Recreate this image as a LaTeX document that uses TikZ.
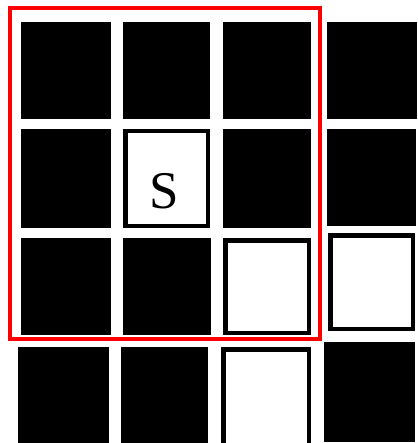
\documentclass[tikz,border=0pt]{standalone}
\usepackage{fontspec}
\setmainfont{Liberation Serif}
\begin{document}
\begin{tikzpicture}[x=1pt, y=-1pt,
    blk/.style={fill=black},
    open/.style={draw=black, line width=4.5pt, fill=white},
    window/.style={draw=red, line width=4.5pt}]
            \useasboundingbox (0,0) rectangle (417,443);
            % row 1
            \fill[blk] (21,22) rectangle (111,119);
            \fill[blk] (123,22) rectangle (210,119);
            \fill[blk] (223,22) rectangle (311,119);
            \fill[blk] (327,22) rectangle (417,119);
            % row 2, start cell in the middle
            \fill[blk] (21,129) rectangle (111,228);
            \draw[open] (125.25,131.25) rectangle (207.75,225.75);
            \fill[blk] (223,129) rectangle (311,228);
            \fill[blk] (327,129) rectangle (416,226);
            % row 3
            \fill[blk] (21,238) rectangle (111,335);
            \fill[blk] (123,238) rectangle (211,335);
            \draw[open] (225.25,240.25) rectangle (308.75,332.75);
            \draw[open] (330.25,235.25) rectangle (412.75,328.75);
            % row 4 (cut off at the bottom)
            \fill[blk] (18,347) rectangle (109,443);
            \fill[blk] (121,347) rectangle (208,443);
            \draw[open] (223.25,349.25) rectangle (308.75,445);
            \fill[blk] (324,342) rectangle (415,442);
            % 3x3 window round the start cell
            \draw[window] (10,8) rectangle (320,339);
            \node[font=\fontsize{53}{53}\selectfont] (start) at (164,191) {S};
        \end{tikzpicture}
\end{document}
